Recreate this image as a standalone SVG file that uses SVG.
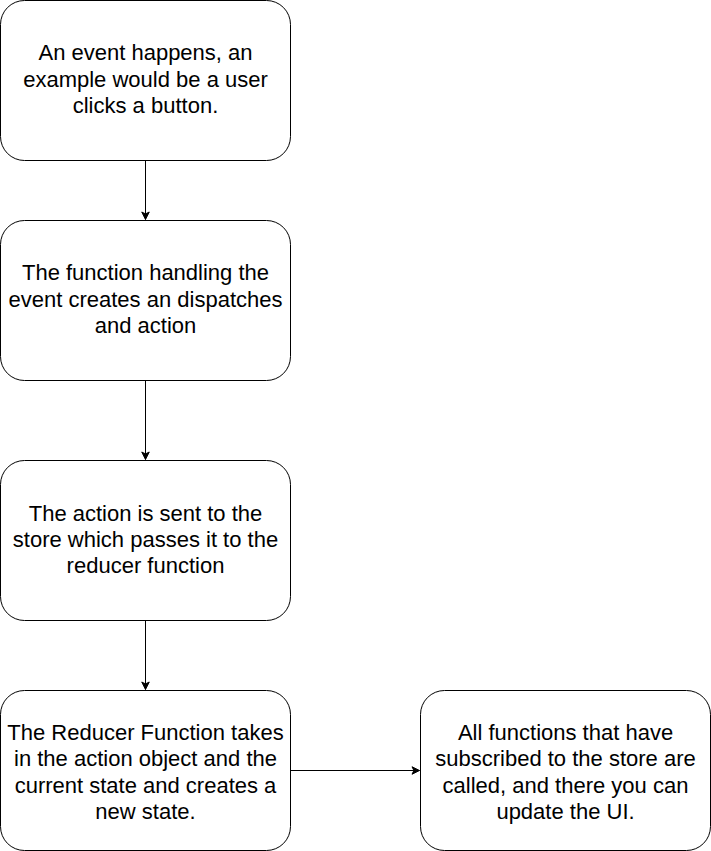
<svg xmlns="http://www.w3.org/2000/svg" width="711" height="851" viewBox="0 0 711 851">
  <style>
    .box { fill: #ffffff; stroke: #000000; stroke-width: 1; }
    .lbl { font-family: "Liberation Sans", Arial, Helvetica, sans-serif; font-size: 22px; fill: #000000; text-anchor: middle; }
    .edge { fill: none; stroke: #000000; stroke-width: 1; }
  </style>
  <defs>
    <marker id="arrow" markerUnits="userSpaceOnUse" markerWidth="10" markerHeight="10" viewBox="-8 -5 9 10" refX="0" refY="0" orient="auto">
      <path d="M0,0 L-7.5,-3.75 L-5.6,0 L-7.5,3.75 Z" fill="#000000" stroke="#000000" stroke-width="1"/>
    </marker>
  </defs>
  <rect width="711" height="851" fill="#ffffff"/>
  <g id="connectors">
    <path class="edge" d="M145.5,160.5 L145.5,219.5" marker-end="url(#arrow)"/>
    <path class="edge" d="M145.5,380.5 L145.5,459.5" marker-end="url(#arrow)"/>
    <path class="edge" d="M145.5,620.5 L145.5,689.5" marker-end="url(#arrow)"/>
    <path class="edge" d="M290.5,770.5 L419.5,770.5" marker-end="url(#arrow)"/>
  </g>
  <g id="node-event">
    <rect class="box" x="0.5" y="0.5" width="290" height="160" rx="24" ry="24"/>
    <text class="lbl"><tspan x="145.5" y="60">An event happens, an</tspan><tspan x="145.5" y="86.5">example would be a user</tspan><tspan x="145.5" y="113">clicks a button.</tspan></text>
  </g>
  <g id="node-dispatch">
    <rect class="box" x="0.5" y="220.5" width="290" height="160" rx="24" ry="24"/>
    <text class="lbl"><tspan x="145.5" y="280">The function handling the</tspan><tspan x="145.5" y="306.5">event creates an dispatches</tspan><tspan x="145.5" y="333">and action</tspan></text>
  </g>
  <g id="node-store">
    <rect class="box" x="0.5" y="460.5" width="290" height="160" rx="24" ry="24"/>
    <text class="lbl"><tspan x="145.5" y="520.5">The action is sent to the</tspan><tspan x="145.5" y="546.5">store which passes it to the</tspan><tspan x="145.5" y="572.5">reducer function</tspan></text>
  </g>
  <g id="node-reducer">
    <rect class="box" x="0.5" y="690.5" width="290" height="160" rx="24" ry="24"/>
    <text class="lbl"><tspan x="145.5" y="740">The Reducer Function takes</tspan><tspan x="145.5" y="766">in the action object and the</tspan><tspan x="145.5" y="792.5">current state and creates a</tspan><tspan x="145.5" y="818.5">new state.</tspan></text>
  </g>
  <g id="node-subscribers">
    <rect class="box" x="420.5" y="690.5" width="290" height="160" rx="24" ry="24"/>
    <text class="lbl"><tspan x="565.5" y="740">All functions that have</tspan><tspan x="565.5" y="766">subscribed to the store are</tspan><tspan x="565.5" y="792.5">called, and there you can</tspan><tspan x="565.5" y="818.5">update the UI.</tspan></text>
  </g>
</svg>
